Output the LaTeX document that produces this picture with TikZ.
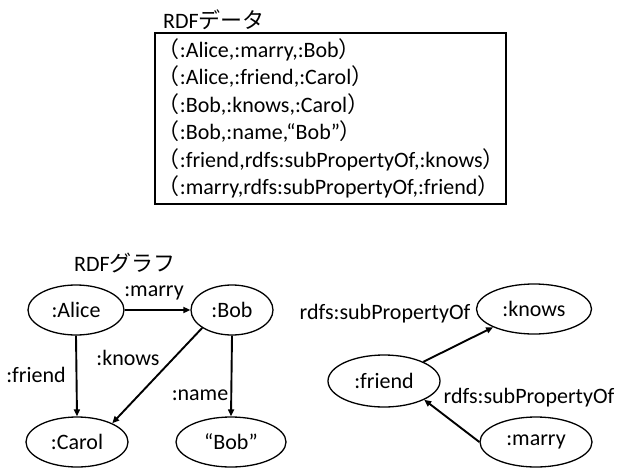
\documentclass[tikz,border=0pt]{standalone}
\usepackage{fontspec}
\setmainfont{Carlito}
\newfontfamily\jpfont{Noto Sans CJK JP}
\usetikzlibrary{shapes.geometric,arrows.meta}

\newlength{\du}
\setlength{\du}{10pt}
\newcommand{\jlp}{{\jpfont （}}
\newcommand{\jrp}{{\jpfont ）}}

\begin{document}
\begin{tikzpicture}[
  res/.style={ellipse,draw,line width=1.3pt,inner sep=0pt,minimum height=5\du},
  rel/.style={-{Triangle[length=7pt,width=6pt]},line width=1.9pt},
  font=\fontsize{22}{27.4}\selectfont]
\pgftransformxscale{1.000000}
\pgftransformyscale{-1.000000}
\useasboundingbox (0\du,0\du) rectangle (62\du,46.8\du);

% RDF data
\node[anchor=west,inner sep=0pt] (datatitle) at (16.3\du,2\du) {RDF{\jpfont データ}};
\node[draw,line width=1.8pt,anchor=north west,align=left,
      text width=34.5\du,inner xsep=0.3\du,inner ysep=0pt,minimum height=17.1\du] (data) at (15.4\du,3.2\du)
  {\jlp:Alice,:marry,:Bob\jrp\\
   \jlp:Alice,:friend,:Carol\jrp\\
   \jlp:Bob,:knows,:Carol\jrp\\
   \jlp:Bob,:name,“Bob”\jrp\\
   \jlp:friend,rdfs:subPropertyOf,:knows\jrp\\
   \jlp:marry,rdfs:subPropertyOf,:friend\jrp};

% RDF graph
\node[anchor=west,inner sep=0pt] (graphtitle) at (7.4\du,26.3\du) {RDF{\jpfont グラフ}};
\node[res,minimum width=9.6\du] (alice) at (7.6\du,31\du) {:Alice};
\node[res,minimum width=8.2\du] (bob) at (23.2\du,31\du) {:Bob};
\node[res,minimum width=10.2\du] (carol) at (7.7\du,44.2\du) {:Carol};
\node[res,minimum width=11\du] (bobname) at (23.1\du,44.2\du) {“Bob”};
\node[res,minimum width=11.5\du] (knows) at (53.4\du,30.9\du) {:knows};
\node[res,minimum width=11.2\du,minimum height=5.2\du] (friend) at (38.4\du,38.1\du) {:friend};
\node[res,minimum width=11.2\du] (marry) at (53.6\du,44.2\du) {:marry};

\draw[rel] (alice) -- (bob);
\draw[rel] (alice.south) -- (carol.north);
\draw[rel] (bob.211) -- (carol.28);
\draw[rel] (bob.south) -- (bobname.north);
\draw[rel] (friend.26) -- (knows.204);
\draw[rel] (marry.west) -- (friend.335);

\node (lmarry) at (15.4\du,29.3\du) {:marry};
\node (lfriend) at (3.6\du,37.5\du) {:friend};
\node (lknows) at (12.8\du,35.8\du) {:knows};
\node (lname) at (20\du,39.5\du) {:name};
\node (lsub1) at (38.5\du,31.4\du) {rdfs:subPropertyOf};
\node (lsub2) at (52.9\du,39.8\du) {rdfs:subPropertyOf};
\end{tikzpicture}
\end{document}
